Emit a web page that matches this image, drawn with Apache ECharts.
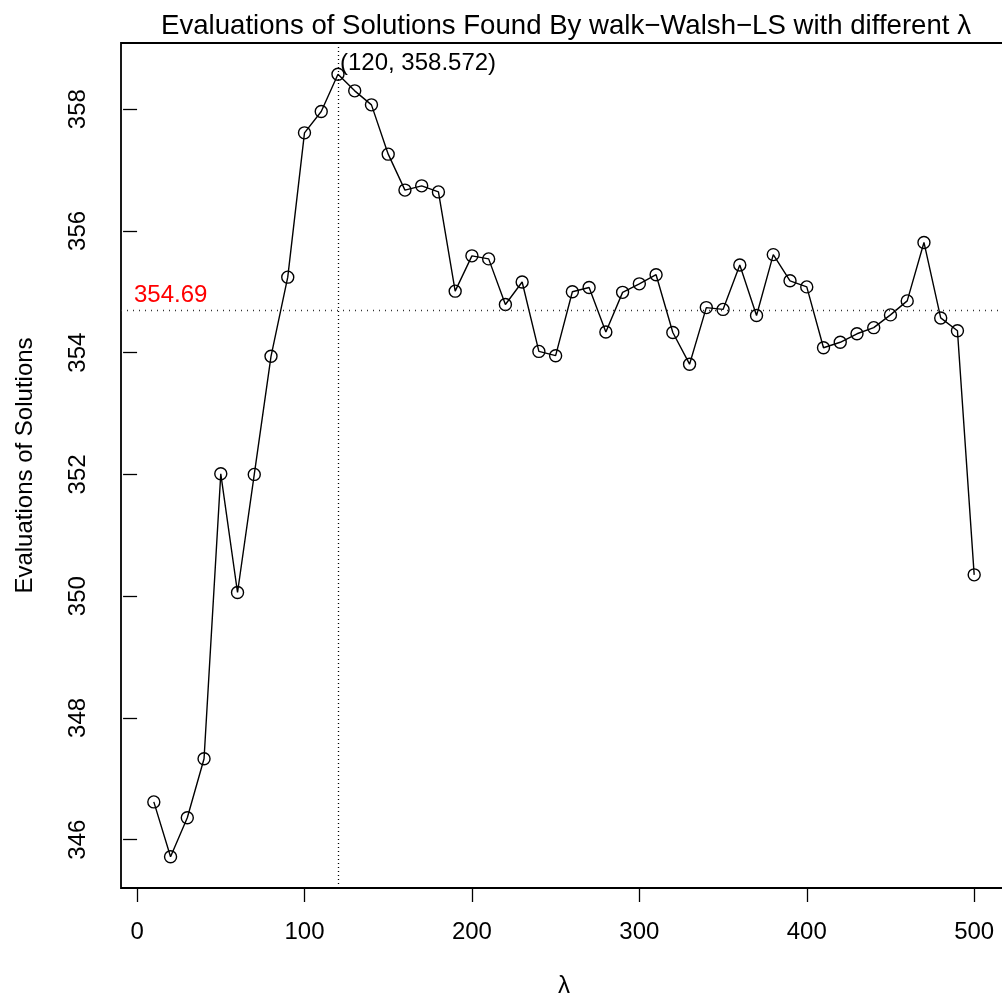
<!DOCTYPE html>
<html>
<head>
<meta charset="utf-8">
<script src="https://cdn.jsdelivr.net/npm/echarts@6/dist/echarts.min.js"></script>
<style>
html,body{margin:0;padding:0;background:#fff;}
#chart{width:1002px;height:1001px;}
</style>
</head>
<body>
<div id="chart"></div>
<script>
const lambdas = [10,20,30,40,50,60,70,80,90,100,110,120,130,140,150,160,170,180,190,200,210,220,230,240,250,260,270,280,290,300,310,320,330,340,350,360,370,380,390,400,410,420,430,440,450,460,470,480,490,500];
const evals = [346.62,345.72,346.36,347.33,352.01,350.06,352.00,353.94,355.24,357.61,357.96,358.572,358.30,358.07,357.26,356.67,356.74,356.64,355.01,355.59,355.54,354.79,355.16,354.02,353.95,355.00,355.07,354.34,354.99,355.13,355.28,354.33,353.81,354.74,354.71,355.44,354.61,355.61,355.18,355.08,354.08,354.17,354.31,354.41,354.62,354.85,355.81,354.57,354.36,350.35];
const xTicks = [0,100,200,300,400,500];
const yTicks = [346,348,350,352,354,356,358];
const meanValue = 354.69;
const bestLambda = 120;
const bestValue = 358.572;

const FONT = '"Liberation Sans", Arial, Helvetica, sans-serif';

// R-style 4% axis extension
const xr = [Math.min(...lambdas), Math.max(...lambdas)];
const yr = [Math.min(...evals), Math.max(...evals)];
const xPad = (xr[1]-xr[0])*0.04, yPad = (yr[1]-yr[0])*0.04;

const chart = echarts.init(document.getElementById('chart'), null, {renderer:'canvas'});
chart.setOption({
  animation:false,
  backgroundColor:'#fff',
  title:{
    text:'Evaluations of Solutions Found By walk\u2212Walsh\u2212LS with different \u03bb',
    left:561, top:7, textAlign:'center',
    textStyle:{fontFamily:FONT, fontSize:27.6, fontWeight:'normal', color:'#000'}
  },
  grid:{left:121, top:43, width:886, height:845, outerBoundsMode:'none', containLabel:false,
        show:true, borderColor:'#000', borderWidth:1.8, backgroundColor:'transparent'},
  xAxis:{
    type:'value', min:xr[0]-xPad, max:xr[1]+xPad,
    name:'\u03bb', nameLocation:'middle', nameGap:86,
    nameTextStyle:{fontFamily:FONT, fontSize:24, color:'#000'},
    axisLine:{show:false},
    axisTick:{show:true, customValues:xTicks, length:14, inside:false, lineStyle:{color:'#000', width:1.3}},
    axisLabel:{customValues:xTicks, margin:32, fontFamily:FONT, fontSize:24, color:'#000'},
    splitLine:{show:false}
  },
  yAxis:{
    type:'value', min:yr[0]-yPad, max:yr[1]+yPad,
    name:'Evaluations of Solutions', nameLocation:'middle', nameGap:84, nameRotate:90,
    nameTextStyle:{fontFamily:FONT, fontSize:24, color:'#000'},
    axisLine:{show:false},
    axisTick:{show:true, customValues:yTicks, length:14, lineStyle:{color:'#000', width:1.3}},
    axisLabel:{customValues:yTicks, rotate:90, margin:43, fontFamily:FONT, fontSize:24, color:'#000', verticalAlign:'middle', align:'center'},
    splitLine:{show:false}
  },
  series:[{
    type:'line',
    data:lambdas.map((x,i)=>[x,evals[i]]),
    symbol:'circle', symbolSize:12,
    showAllSymbol:true,
    lineStyle:{color:'#000', width:1.4},
    itemStyle:{color:'rgba(0,0,0,0)', borderColor:'#000', borderWidth:1.4},
    markLine:{
      silent:true, symbol:'none',
      animation:false,
      data:[
        {yAxis:meanValue, lineStyle:{color:'#333', type:[1,5], width:1.3},
         label:{show:false}},
        {xAxis:bestLambda, lineStyle:{color:'#000', type:[1,3], width:1.3}, label:{show:false}}
      ]
    },
    markPoint:{
      silent:true, symbol:'circle', symbolSize:0,
      data:[
        {coord:[bestLambda,bestValue], label:{show:true, position:'right', distance:0, offset:[2,-11], formatter:'(' + bestLambda + ', ' + bestValue + ')', fontFamily:FONT, fontSize:24, color:'#000'}},
        {coord:[xr[0]-xPad, meanValue], label:{show:true, position:'right', distance:0, offset:[13,-15], formatter:meanValue.toFixed(2), fontFamily:FONT, fontSize:24, color:'#ff0000'}}
      ]
    }
  }]
});
</script>
</body>
</html>
